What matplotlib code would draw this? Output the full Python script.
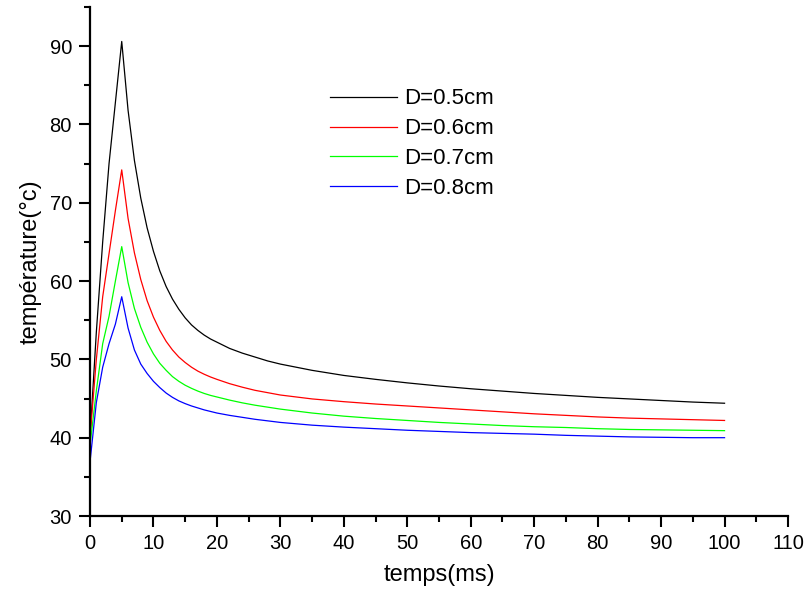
import matplotlib
matplotlib.use("Agg")
import matplotlib.pyplot as plt
from matplotlib.ticker import MultipleLocator

plt.rcParams['font.family'] = ['Liberation Sans', 'DejaVu Sans']

# time samples (ms)
temps = [0, 1, 2, 3, 4, 5, 6, 7, 8, 9, 10, 11, 12, 13, 14, 15, 16, 17, 18, 19, 20,
         22, 24, 26, 28, 30, 35, 40, 45, 50, 55, 60, 65, 70, 75, 80, 85, 90, 95, 100]

d05 = [40.0, 53.5, 65.0, 75.0, 82.8, 90.6, 81.8, 75.4, 70.6, 66.8, 63.8, 61.3, 59.3,
       57.7, 56.4, 55.3, 54.4, 53.7, 53.1, 52.6, 52.2, 51.4, 50.8, 50.3, 49.8, 49.4,
       48.6, 47.95, 47.45, 47.0, 46.6, 46.25, 45.95, 45.65, 45.4, 45.15, 44.95, 44.75,
       44.55, 44.4]
d06 = [40.0, 50.0, 58.0, 63.5, 69.0, 74.2, 68.0, 63.6, 60.2, 57.5, 55.4, 53.7, 52.3,
       51.2, 50.3, 49.6, 49.0, 48.5, 48.1, 47.75, 47.45, 46.9, 46.45, 46.05, 45.75, 45.45,
       44.95, 44.6, 44.3, 44.05, 43.8, 43.55, 43.3, 43.05, 42.85, 42.65, 42.5, 42.4,
       42.3, 42.2]
d07 = [39.0, 46.0, 52.0, 55.5, 60.0, 64.4, 59.8, 56.5, 54.1, 52.2, 50.7, 49.5, 48.6,
       47.8, 47.2, 46.7, 46.3, 45.95, 45.65, 45.4, 45.2, 44.8, 44.45, 44.15, 43.9, 43.65,
       43.15, 42.75, 42.45, 42.2, 41.95, 41.75, 41.55, 41.4, 41.3, 41.15, 41.05, 41.0,
       40.95, 40.9]
d08 = [36.9, 44.5, 49.0, 52.0, 54.5, 58.0, 54.0, 51.2, 49.4, 48.2, 47.2, 46.4, 45.7,
       45.15, 44.7, 44.35, 44.05, 43.8, 43.55, 43.35, 43.15, 42.85, 42.6, 42.35, 42.15,
       41.95, 41.6, 41.35, 41.15, 40.95, 40.8, 40.65, 40.55, 40.45, 40.3, 40.2, 40.1,
       40.05, 40.0, 40.0]

series = [("D=0.5cm", d05, "#000000"),
          ("D=0.6cm", d06, "#ff0000"),
          ("D=0.7cm", d07, "#00ff00"),
          ("D=0.8cm", d08, "#0000ff")]

fig = plt.figure(figsize=(8.09, 5.96), dpi=100)
ax = fig.add_axes([90 / 809, 1 - 516 / 596, 698 / 809, 509 / 596])

for label, vals, col in series:
    ax.plot(temps, vals, color=col, lw=0.9, label=label)

ax.set_xlim(0, 110)
ax.set_ylim(30, 95)
ax.xaxis.set_major_locator(MultipleLocator(10))
ax.xaxis.set_minor_locator(MultipleLocator(5))
ax.yaxis.set_major_locator(MultipleLocator(10))
ax.yaxis.set_minor_locator(MultipleLocator(5))
ax.set_yticks([30, 40, 50, 60, 70, 80, 90])

for side in ("top", "right"):
    ax.spines[side].set_visible(False)
for side in ("left", "bottom"):
    ax.spines[side].set_linewidth(1.6)

ax.tick_params(which="major", direction="out", length=8, width=1.5, labelsize=14.5, pad=5)
ax.tick_params(which="minor", direction="out", length=4, width=1.5)

ax.set_xlabel("temps(ms)", fontsize=17, labelpad=8)
ax.set_ylabel("température(°c)", fontsize=17, labelpad=6)

ax.legend(loc="upper left", bbox_to_anchor=(0.344, 0.84), frameon=False,
          fontsize=16, handlelength=3.0, handletextpad=0.35, labelspacing=0.40,
          borderpad=0, borderaxespad=0)

fig.savefig("out.png", dpi=100)
